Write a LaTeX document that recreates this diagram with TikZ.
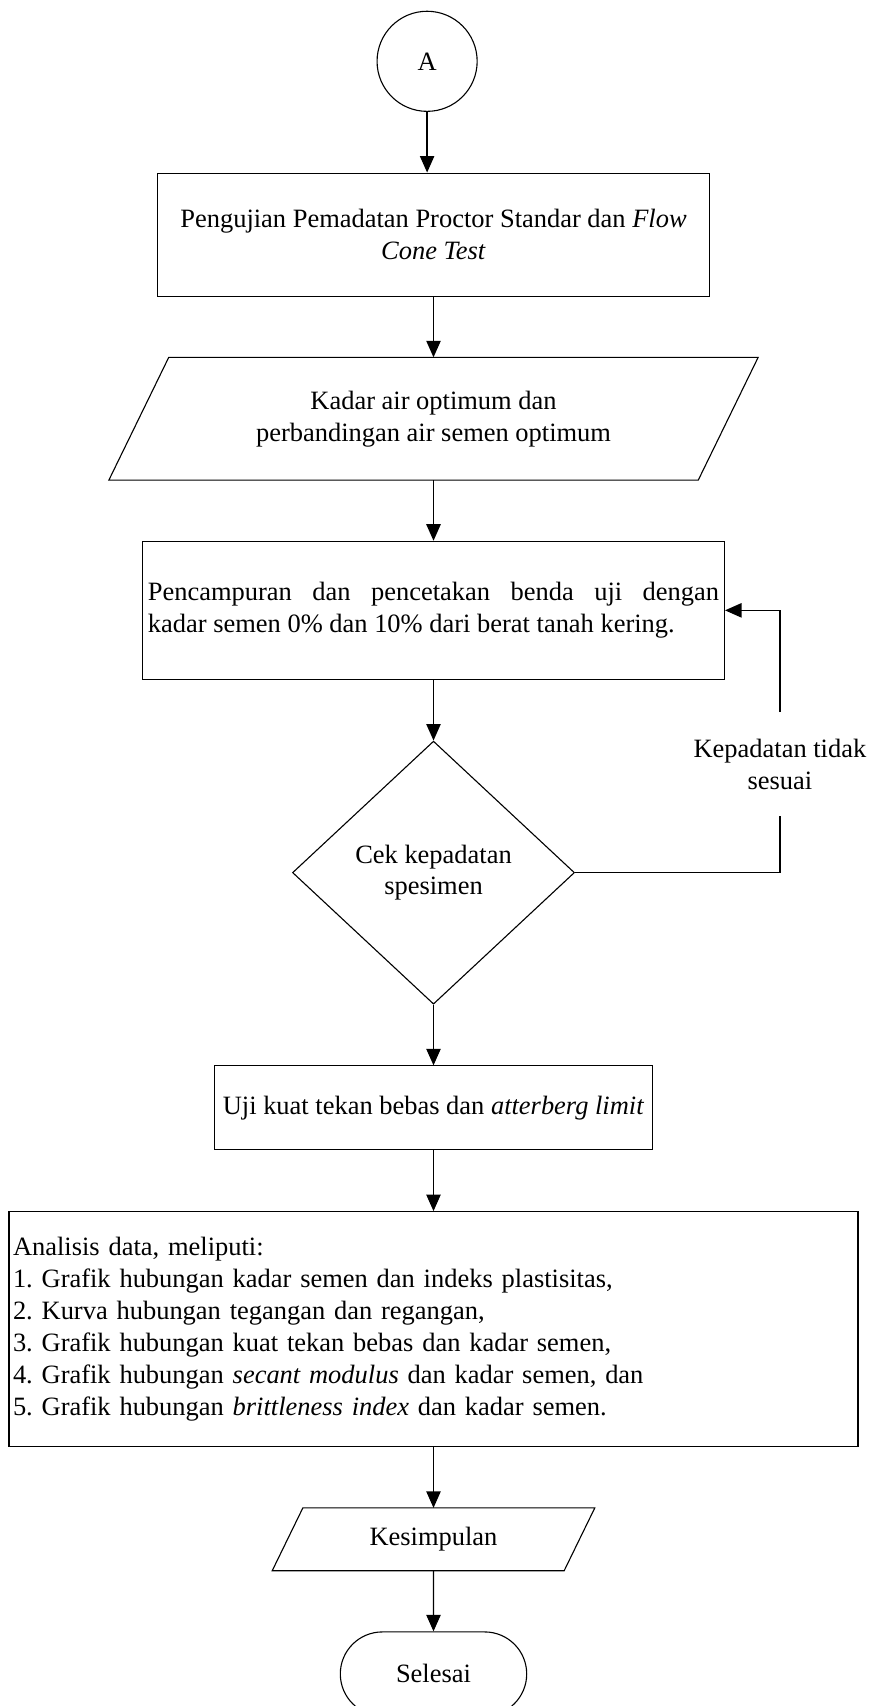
\documentclass[tikz,border=0pt]{standalone}
\usepackage{fontspec}
\setmainfont{Liberation Serif}
\usepackage{tikz}
\usetikzlibrary{shapes,arrows.meta,positioning,calc}

% parallelogram frame round a plain node
\newcommand\drawio[1]{\draw[line width=0.5pt] let \p1=(#1.north west), \p2=(#1.south east), \n1={0.2439*(\y1-\y2)} in (\x1+\n1,\y1) -- (\x2+\n1,\y1) -- (\x2-\n1,\y2) -- (\x1-\n1,\y2) -- cycle;}

\begin{document}
\frenchspacing
\begin{tikzpicture}[
    node distance=27.5pt,
    every node/.style={font=\fontsize{12}{14.5}\selectfont},
    box/.style={rectangle, draw, line width=0.5pt, align=center, inner sep=2pt},
    io/.style={rectangle, align=center, inner sep=1pt},
    arrow/.style={-{Triangle[width=6.5pt,length=7.5pt]}, line width=0.6pt}
]
    \useasboundingbox (0,0) rectangle (394.1pt,-773.7pt);
    \node[box, minimum width=250.3pt, minimum height=55.8pt] (uji) at (196.6pt,-106.4pt) {Pengujian Pemadatan Proctor Standar dan \textit{Flow}\\\textit{Cone Test}};
    \node[circle, draw, line width=0.5pt, minimum size=45.4pt, inner sep=0pt, above=of uji, xshift=-2.9pt] (a) {A};
    \node[io, minimum width=266.9pt, minimum height=55.3pt, below=of uji] (kadar) {Kadar air optimum dan\\perbandingan air semen optimum};
    \node[box, minimum width=263.9pt, minimum height=62.6pt, text width=259pt, inner xsep=2.45pt, align=justify, below=of kadar] (mix) {Pencampuran dan pencetakan benda uji dengan\linebreak kadar semen 0\% dan 10\% dari berat tanah kering.};
    \node[diamond, draw, line width=0.5pt, minimum width=127.9pt, minimum height=119.3pt, inner sep=0pt, align=center, below=of mix] (cek) {Cek kepadatan\\spesimen};
    \node[box, minimum width=198.6pt, minimum height=38.1pt, below=of cek] (ukt) {Uji kuat tekan bebas dan \textit{atterberg limit}};
    \node[box, minimum width=385pt, minimum height=106.6pt, text width=381.4pt, inner xsep=1.8pt, align=left, below=of ukt] (analisis) {Analisis data, meliputi:\\
        1. Grafik hubungan kadar semen dan indeks plastisitas,\\
        2. Kurva hubungan tegangan dan regangan,\\
        3. Grafik hubungan kuat tekan bebas dan kadar semen,\\
        4. Grafik hubungan \textit{secant modulus} dan kadar semen, dan\\
        5. Grafik hubungan \textit{brittleness index} dan kadar semen.};
    \node[io, minimum width=132pt, minimum height=28.1pt, below=of analisis] (simpul) {Kesimpulan};
    \node[rounded rectangle, draw, line width=0.5pt, minimum width=91.2pt, minimum height=38.1pt, below=of simpul] (selesai) {Selesai};
    \node[minimum height=46.7pt, inner sep=0pt, align=center] (lbl) at (353.7pt,-346.5pt) {Kepadatan tidak\\sesuai};

    \drawio{kadar}
    \drawio{simpul}

    \draw[arrow] (a) -- (a |- uji.north);
    \draw[arrow] (uji) -- (kadar);
    \draw[arrow] (kadar) -- (mix);
    \draw[arrow] (mix) -- (cek);
    \draw[arrow] (cek) -- (ukt);
    \draw[arrow] (ukt) -- (analisis);
    \draw[arrow] (analisis) -- (simpul);
    \draw[arrow] (simpul) -- (selesai);
    \draw[line width=0.6pt] (cek.east) -| (lbl.south);
    \draw[arrow] (lbl.north) |- (mix.east);
\end{tikzpicture}
\end{document}
